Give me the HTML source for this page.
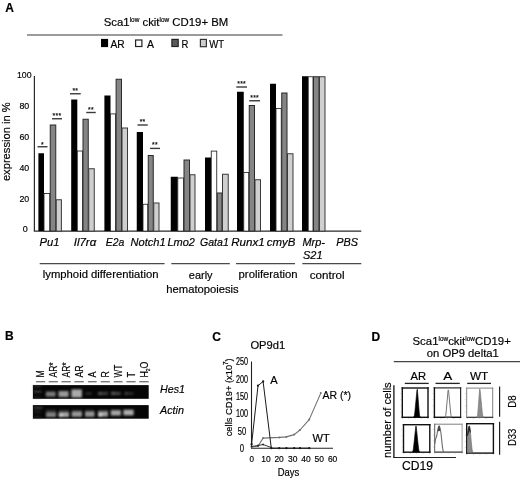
<!DOCTYPE html>
<html><head><meta charset="utf-8"><title>Figure</title>
<style>
html,body{margin:0;padding:0;background:#fff;}
svg{display:block;font-family:'Liberation Sans', Arial, sans-serif;}
svg text{stroke:#000;stroke-width:0.18px;}
</style></head>
<body>
<svg width="520" height="480" viewBox="0 0 520 480">
<rect width="520" height="480" fill="#fff"/>
<g id="panelA">
<text x="5.2" y="11.9" font-size="12" font-weight="bold" fill="#000">A</text>
<text x="103.75" y="25.9" font-size="11.5" fill="#000" textLength="124.5" lengthAdjust="spacingAndGlyphs">Sca1<tspan font-size="6.5" dy="-4">low</tspan><tspan dy="4"> ckit</tspan><tspan font-size="6.5" dy="-4">low</tspan><tspan dy="4"> CD19+ BM</tspan></text>
<line x1="27" y1="35" x2="282.5" y2="35" stroke="#383838" stroke-width="1.2"/>
<rect x="101.00" y="38.90" width="7.10" height="8.20" fill="#000"/>
<text x="110.4" y="47.5" font-size="10.8" textLength="14.2" lengthAdjust="spacingAndGlyphs" fill="#000">AR</text>
<rect x="135.60" y="40.00" width="6.30" height="6.50" fill="#fff" stroke="#222" stroke-width="1.2"/>
<text x="147.0" y="47.5" font-size="10.8" textLength="7" lengthAdjust="spacingAndGlyphs" fill="#000">A</text>
<rect x="171.90" y="39.40" width="6.30" height="7.10" fill="#5a5a5a" stroke="#222" stroke-width="1.2"/>
<text x="181.6" y="47.5" font-size="10.8" textLength="6.9" lengthAdjust="spacingAndGlyphs" fill="#000">R</text>
<rect x="200.40" y="39.40" width="6.00" height="7.30" fill="#cdcdcd" stroke="#333" stroke-width="1.2"/>
<text x="209.2" y="47.5" font-size="10.8" textLength="14.8" lengthAdjust="spacingAndGlyphs" fill="#000">WT</text>
<line x1="34.4" y1="76" x2="34.4" y2="231.1" stroke="#2a2a2a" stroke-width="1.2"/>
<line x1="33.8" y1="231.1" x2="361.3" y2="231.1" stroke="#2a2a2a" stroke-width="1.3"/>
<text x="17.0" y="78.05" font-size="9.5" textLength="14.6" lengthAdjust="spacingAndGlyphs" fill="#000">100</text>
<text x="19.4" y="108.95" font-size="9.5" textLength="9.8" lengthAdjust="spacingAndGlyphs" fill="#000">80</text>
<text x="19.4" y="139.85000000000002" font-size="9.5" textLength="9.8" lengthAdjust="spacingAndGlyphs" fill="#000">60</text>
<text x="19.4" y="170.75" font-size="9.5" textLength="9.8" lengthAdjust="spacingAndGlyphs" fill="#000">40</text>
<text x="19.4" y="201.65" font-size="9.5" textLength="9.8" lengthAdjust="spacingAndGlyphs" fill="#000">20</text>
<text x="22.7" y="232.4" font-size="9.5" textLength="5.0" lengthAdjust="spacingAndGlyphs" fill="#000">0</text>
<text transform="translate(10.1,181.1) rotate(-90)" font-size="11.6" fill="#000" textLength="78.8" lengthAdjust="spacingAndGlyphs">expression in %</text>
<rect x="38.40" y="153.25" width="5.60" height="77.85" fill="#000"/>
<rect x="44.00" y="193.50" width="5.75" height="37.60" fill="#fff" stroke="#222" stroke-width="0.85"/>
<rect x="50.25" y="125.00" width="5.50" height="106.10" fill="#858585" stroke="#2a2a2a" stroke-width="1"/>
<rect x="56.25" y="199.75" width="5.15" height="31.35" fill="#cfcfcf" stroke="#3a3a3a" stroke-width="1"/>
<rect x="71.20" y="99.50" width="6.10" height="131.60" fill="#000"/>
<rect x="77.30" y="151.00" width="5.30" height="80.10" fill="#fff" stroke="#222" stroke-width="0.85"/>
<rect x="83.00" y="119.25" width="5.25" height="111.85" fill="#858585" stroke="#2a2a2a" stroke-width="1"/>
<rect x="88.75" y="168.75" width="5.50" height="62.35" fill="#cfcfcf" stroke="#3a3a3a" stroke-width="1"/>
<rect x="104.40" y="95.50" width="6.10" height="135.60" fill="#000"/>
<rect x="110.50" y="113.90" width="5.10" height="117.20" fill="#fff" stroke="#222" stroke-width="0.85"/>
<rect x="116.10" y="79.25" width="5.40" height="151.85" fill="#858585" stroke="#2a2a2a" stroke-width="1"/>
<rect x="122.00" y="128.00" width="5.50" height="103.10" fill="#cfcfcf" stroke="#3a3a3a" stroke-width="1"/>
<rect x="136.75" y="132.00" width="6.25" height="99.10" fill="#000"/>
<rect x="143.00" y="204.25" width="4.75" height="26.85" fill="#fff" stroke="#222" stroke-width="0.85"/>
<rect x="148.25" y="155.50" width="5.00" height="75.60" fill="#858585" stroke="#2a2a2a" stroke-width="1"/>
<rect x="153.75" y="203.00" width="5.25" height="28.10" fill="#cfcfcf" stroke="#3a3a3a" stroke-width="1"/>
<rect x="170.75" y="176.75" width="7.05" height="54.35" fill="#000"/>
<rect x="177.80" y="178.00" width="5.70" height="53.10" fill="#fff" stroke="#222" stroke-width="0.85"/>
<rect x="184.00" y="160.00" width="5.50" height="71.10" fill="#858585" stroke="#2a2a2a" stroke-width="1"/>
<rect x="190.00" y="174.75" width="5.00" height="56.35" fill="#cfcfcf" stroke="#3a3a3a" stroke-width="1"/>
<rect x="205.00" y="157.50" width="6.25" height="73.60" fill="#000"/>
<rect x="211.25" y="151.10" width="5.50" height="80.00" fill="#fff" stroke="#222" stroke-width="0.85"/>
<rect x="217.25" y="193.00" width="4.75" height="38.10" fill="#858585" stroke="#2a2a2a" stroke-width="1"/>
<rect x="222.50" y="174.25" width="5.75" height="56.85" fill="#cfcfcf" stroke="#3a3a3a" stroke-width="1"/>
<rect x="237.00" y="91.75" width="6.75" height="139.35" fill="#000"/>
<rect x="243.75" y="172.40" width="5.00" height="58.70" fill="#fff" stroke="#222" stroke-width="0.85"/>
<rect x="249.25" y="105.50" width="5.25" height="125.60" fill="#858585" stroke="#2a2a2a" stroke-width="1"/>
<rect x="255.00" y="179.75" width="5.50" height="51.35" fill="#cfcfcf" stroke="#3a3a3a" stroke-width="1"/>
<rect x="270.00" y="83.75" width="6.00" height="147.35" fill="#000"/>
<rect x="276.00" y="108.50" width="5.25" height="122.60" fill="#fff" stroke="#222" stroke-width="0.85"/>
<rect x="281.75" y="93.00" width="5.25" height="138.10" fill="#858585" stroke="#2a2a2a" stroke-width="1"/>
<rect x="287.50" y="153.75" width="5.50" height="77.35" fill="#cfcfcf" stroke="#3a3a3a" stroke-width="1"/>
<rect x="302.00" y="76.25" width="6.25" height="154.85" fill="#000"/>
<rect x="308.25" y="76.75" width="4.75" height="154.35" fill="#fff" stroke="#222" stroke-width="0.85"/>
<rect x="313.50" y="76.75" width="5.50" height="154.35" fill="#858585" stroke="#2a2a2a" stroke-width="1"/>
<rect x="319.50" y="76.75" width="5.50" height="154.35" fill="#cfcfcf" stroke="#3a3a3a" stroke-width="1"/>
<line x1="37.5" y1="146.75" x2="47.5" y2="146.75" stroke="#3a3a3a" stroke-width="1.4"/>
<text x="42.5" y="146.65" font-size="6.8" text-anchor="middle" fill="#222" letter-spacing="0.3">*</text>
<line x1="52" y1="118.75" x2="62" y2="118.75" stroke="#3a3a3a" stroke-width="1.4"/>
<text x="57.0" y="117.75" font-size="6.8" text-anchor="middle" fill="#222" letter-spacing="0.3">***</text>
<line x1="70" y1="93.75" x2="80.75" y2="93.75" stroke="#3a3a3a" stroke-width="1.4"/>
<text x="75.375" y="92.75" font-size="6.8" text-anchor="middle" fill="#222" letter-spacing="0.3">**</text>
<line x1="86.25" y1="112.5" x2="95.75" y2="112.5" stroke="#3a3a3a" stroke-width="1.4"/>
<text x="91.0" y="111.5" font-size="6.8" text-anchor="middle" fill="#222" letter-spacing="0.3">**</text>
<line x1="137.5" y1="125.0" x2="147.75" y2="125.0" stroke="#3a3a3a" stroke-width="1.4"/>
<text x="142.625" y="124.0" font-size="6.8" text-anchor="middle" fill="#222" letter-spacing="0.3">**</text>
<line x1="150" y1="148.4" x2="160" y2="148.4" stroke="#3a3a3a" stroke-width="1.4"/>
<text x="155.0" y="147.4" font-size="6.8" text-anchor="middle" fill="#222" letter-spacing="0.3">**</text>
<line x1="236.25" y1="87" x2="247" y2="87" stroke="#3a3a3a" stroke-width="1.4"/>
<text x="241.625" y="86.0" font-size="6.8" text-anchor="middle" fill="#222" letter-spacing="0.3">***</text>
<line x1="249.25" y1="100.75" x2="260" y2="100.75" stroke="#3a3a3a" stroke-width="1.4"/>
<text x="254.625" y="99.75" font-size="6.8" text-anchor="middle" fill="#222" letter-spacing="0.3">***</text>
<text x="39.5" y="245.5" font-size="11" font-style="italic" textLength="20.0" lengthAdjust="spacingAndGlyphs" fill="#000">Pu1</text>
<text x="73.75" y="245.5" font-size="11" font-style="italic" textLength="22.5" lengthAdjust="spacingAndGlyphs" fill="#000">Il7rα</text>
<text x="105.75" y="245.5" font-size="11" font-style="italic" textLength="18.5" lengthAdjust="spacingAndGlyphs" fill="#000">E2a</text>
<text x="130.5" y="245.5" font-size="11" font-style="italic" textLength="35.1" lengthAdjust="spacingAndGlyphs" fill="#000">Notch1</text>
<text x="167.5" y="245.5" font-size="11" font-style="italic" textLength="27.5" lengthAdjust="spacingAndGlyphs" fill="#000">Lmo2</text>
<text x="200" y="245.5" font-size="11" font-style="italic" textLength="28.75" lengthAdjust="spacingAndGlyphs" fill="#000">Gata1</text>
<text x="231.2" y="245.5" font-size="11" font-style="italic" textLength="33.4" lengthAdjust="spacingAndGlyphs" fill="#000">Runx1</text>
<text x="266.8" y="245.5" font-size="11" font-style="italic" textLength="28.6" lengthAdjust="spacingAndGlyphs" fill="#000">cmyB</text>
<text x="302.5" y="245.5" font-size="11" font-style="italic" textLength="22.5" lengthAdjust="spacingAndGlyphs" fill="#000">Mrp-</text>
<text x="303" y="258.75" font-size="11" font-style="italic" textLength="19.5" lengthAdjust="spacingAndGlyphs" fill="#000">S21</text>
<text x="336.25" y="245.5" font-size="11" font-style="italic" textLength="21.75" lengthAdjust="spacingAndGlyphs" fill="#000">PBS</text>
<line x1="39.7" y1="263.6" x2="164.6" y2="263.6" stroke="#4a4a4a" stroke-width="1.35"/>
<line x1="171.3" y1="263.6" x2="229.8" y2="263.6" stroke="#4a4a4a" stroke-width="1.35"/>
<line x1="236" y1="263.6" x2="295" y2="263.6" stroke="#4a4a4a" stroke-width="1.35"/>
<line x1="302.3" y1="263.6" x2="361.3" y2="263.6" stroke="#4a4a4a" stroke-width="1.35"/>
<text x="42.8" y="278.4" font-size="11" textLength="115.7" lengthAdjust="spacingAndGlyphs" fill="#000">lymphoid differentiation</text>
<text x="188.8" y="278.5" font-size="11" textLength="23.8" lengthAdjust="spacingAndGlyphs" fill="#000">early</text>
<text x="166.3" y="292.6" font-size="11" textLength="72.4" lengthAdjust="spacingAndGlyphs" fill="#000">hematopoiesis</text>
<text x="238.6" y="278.3" font-size="11.3" textLength="59" lengthAdjust="spacingAndGlyphs" fill="#000">proliferation</text>
<text x="309.8" y="279.3" font-size="11.6" textLength="34.8" lengthAdjust="spacingAndGlyphs" fill="#000">control</text>
</g>
<g id="panelB">
<text x="5" y="340" font-size="12" font-weight="bold" fill="#000">B</text>
<line x1="36" y1="381.7" x2="45.2" y2="381.7" stroke="#7a7a7a" stroke-width="1.4"/>
<text transform="translate(44.45,377.6) rotate(-90)" font-size="10.8" fill="#000" textLength="7.2" lengthAdjust="spacingAndGlyphs">M</text>
<line x1="48.7" y1="381.7" x2="57.9" y2="381.7" stroke="#7a7a7a" stroke-width="1.4"/>
<text transform="translate(57.15,377.6) rotate(-90)" font-size="10.8" fill="#000" textLength="15.3" lengthAdjust="spacingAndGlyphs">AR*</text>
<line x1="61.5" y1="381.7" x2="70.7" y2="381.7" stroke="#7a7a7a" stroke-width="1.4"/>
<text transform="translate(69.95,377.6) rotate(-90)" font-size="10.8" fill="#000" textLength="15.3" lengthAdjust="spacingAndGlyphs">AR*</text>
<line x1="74.4" y1="381.7" x2="83.8" y2="381.7" stroke="#7a7a7a" stroke-width="1.4"/>
<text transform="translate(82.95,377.6) rotate(-90)" font-size="10.8" fill="#000" textLength="12.4" lengthAdjust="spacingAndGlyphs">AR</text>
<line x1="87.9" y1="381.7" x2="96.7" y2="381.7" stroke="#7a7a7a" stroke-width="1.4"/>
<text transform="translate(96.15,377.6) rotate(-90)" font-size="10.8" fill="#000" textLength="6.0" lengthAdjust="spacingAndGlyphs">A</text>
<line x1="100.7" y1="381.7" x2="109.8" y2="381.7" stroke="#7a7a7a" stroke-width="1.4"/>
<text transform="translate(109.10,377.6) rotate(-90)" font-size="10.8" fill="#000" textLength="6.3" lengthAdjust="spacingAndGlyphs">R</text>
<line x1="113.7" y1="381.7" x2="122.6" y2="381.7" stroke="#7a7a7a" stroke-width="1.4"/>
<text transform="translate(122.00,377.6) rotate(-90)" font-size="10.8" fill="#000" textLength="12.8" lengthAdjust="spacingAndGlyphs">WT</text>
<line x1="126.5" y1="381.7" x2="135.6" y2="381.7" stroke="#7a7a7a" stroke-width="1.4"/>
<text transform="translate(134.90,377.6) rotate(-90)" font-size="10.8" fill="#000" textLength="5.6" lengthAdjust="spacingAndGlyphs">T</text>
<line x1="139.2" y1="381.7" x2="148.7" y2="381.7" stroke="#7a7a7a" stroke-width="1.4"/>
<text transform="translate(147.80,377.6) rotate(-90)" font-size="10.8" fill="#000" textLength="16.0" lengthAdjust="spacingAndGlyphs">H<tspan font-size="6" dy="2">2</tspan><tspan dy="-2">O</tspan></text>
<defs><filter id="bl" x="-20%" y="-40%" width="140%" height="180%"><feGaussianBlur stdDeviation="0.8"/></filter></defs>
<rect x="32.90" y="385.10" width="115.80" height="13.70" fill="#060606"/>
<rect x="32.90" y="405.10" width="115.80" height="13.60" fill="#060606"/>
<g filter="url(#bl)">
<rect x="45.80" y="391.60" width="9.80" height="5.00" fill="#7c7c7c"/>
<rect x="58.50" y="391.00" width="10.10" height="6.00" fill="#999"/>
<rect x="71.40" y="389.40" width="10.50" height="8.10" fill="#aaa"/>
<rect x="85.50" y="392.40" width="6.00" height="2.20" fill="#333"/>
<rect x="98.00" y="392.00" width="10.00" height="3.00" fill="#3e3e3e"/>
<rect x="111.00" y="392.00" width="9.70" height="3.00" fill="#444"/>
<rect x="124.60" y="392.20" width="8.90" height="2.40" fill="#323232"/>
<rect x="98.20" y="392.00" width="3.30" height="3.00" fill="#525252"/>
<rect x="111.30" y="391.80" width="3.70" height="3.20" fill="#565656"/>
<rect x="124.80" y="392.00" width="2.70" height="2.60" fill="#444"/>
<rect x="33.50" y="386.00" width="7.50" height="1.20" fill="#3a3a3a"/>
<rect x="33.50" y="391.00" width="8.00" height="1.30" fill="#5a5a5a"/>
<rect x="33.50" y="396.60" width="7.50" height="1.00" fill="#333"/>
<rect x="46.00" y="409.60" width="10.00" height="3.40" fill="#2e2e2e"/>
<rect x="59.00" y="409.60" width="10.00" height="3.40" fill="#2e2e2e"/>
<rect x="72.00" y="409.60" width="10.00" height="3.40" fill="#2e2e2e"/>
<rect x="85.00" y="409.60" width="9.50" height="3.40" fill="#2e2e2e"/>
<rect x="98.00" y="409.60" width="10.00" height="3.40" fill="#2e2e2e"/>
<rect x="110.80" y="409.60" width="10.00" height="3.40" fill="#2e2e2e"/>
<rect x="123.50" y="409.60" width="10.10" height="3.40" fill="#2e2e2e"/>
<rect x="46.00" y="412.80" width="10.00" height="4.20" fill="#858585"/>
<rect x="58.60" y="412.60" width="10.40" height="4.40" fill="#a8a8a8"/>
<rect x="71.60" y="412.00" width="10.40" height="4.80" fill="#999"/>
<rect x="85.00" y="412.00" width="9.50" height="4.80" fill="#959595"/>
<rect x="98.00" y="411.80" width="10.00" height="4.80" fill="#a0a0a0"/>
<rect x="110.80" y="410.40" width="10.10" height="5.20" fill="#a5a5a5"/>
<rect x="123.40" y="409.80" width="10.20" height="5.60" fill="#adadad"/>
<rect x="59.00" y="414.20" width="4.00" height="2.60" fill="#d0d0d0"/>
<rect x="98.20" y="413.80" width="4.30" height="2.60" fill="#d8d8d8"/>
<rect x="33.50" y="407.20" width="9.00" height="1.30" fill="#5a5a5a"/>
<rect x="33.50" y="411.30" width="7.50" height="1.00" fill="#3c3c3c"/>
<rect x="33.50" y="416.50" width="7.50" height="1.00" fill="#333"/>
</g>
<text x="160" y="392.5" font-size="11" font-style="italic" textLength="25" lengthAdjust="spacingAndGlyphs" fill="#000">Hes1</text>
<text x="160" y="413.8" font-size="11" font-style="italic" textLength="24" lengthAdjust="spacingAndGlyphs" fill="#000">Actin</text>
</g>
<g id="panelC">
<text x="212.2" y="340.7" font-size="12" font-weight="bold" fill="#000">C</text>
<text x="250.4" y="349" font-size="11.5" textLength="34.8" lengthAdjust="spacingAndGlyphs" fill="#000">OP9d1</text>
<line x1="251.5" y1="361.5" x2="251.5" y2="448.2" stroke="#222" stroke-width="1.1"/>
<line x1="251.0" y1="448.2" x2="333" y2="448.2" stroke="#222" stroke-width="1.1"/>
<text x="235.95" y="365.2" font-size="10" textLength="12.1" lengthAdjust="spacingAndGlyphs" fill="#000">250</text>
<text x="235.95" y="382.6" font-size="10" textLength="12.1" lengthAdjust="spacingAndGlyphs" fill="#000">200</text>
<text x="235.95" y="399.9" font-size="10" textLength="12.1" lengthAdjust="spacingAndGlyphs" fill="#000">150</text>
<text x="235.95" y="417.3" font-size="10" textLength="12.1" lengthAdjust="spacingAndGlyphs" fill="#000">100</text>
<text x="237.8" y="434.6" font-size="10" textLength="8.4" lengthAdjust="spacingAndGlyphs" fill="#000">50</text>
<text x="239.85" y="452.0" font-size="10" textLength="4.3" lengthAdjust="spacingAndGlyphs" fill="#000">0</text>
<text x="249.45" y="462.0" font-size="9.8" textLength="4.5" lengthAdjust="spacingAndGlyphs" fill="#000">0</text>
<text x="261.3" y="462.0" font-size="9.8" textLength="9.4" lengthAdjust="spacingAndGlyphs" fill="#000">10</text>
<text x="274.4" y="462.0" font-size="9.8" textLength="9.4" lengthAdjust="spacingAndGlyphs" fill="#000">20</text>
<text x="288.1" y="462.0" font-size="9.8" textLength="9.4" lengthAdjust="spacingAndGlyphs" fill="#000">30</text>
<text x="301.2" y="462.0" font-size="9.8" textLength="9.4" lengthAdjust="spacingAndGlyphs" fill="#000">40</text>
<text x="314.6" y="462.0" font-size="9.8" textLength="9.4" lengthAdjust="spacingAndGlyphs" fill="#000">50</text>
<text x="327.9" y="462.0" font-size="9.8" textLength="9.4" lengthAdjust="spacingAndGlyphs" fill="#000">60</text>
<text x="277.7" y="476" font-size="10.5" textLength="21.6" lengthAdjust="spacingAndGlyphs" fill="#000">Days</text>
<text transform="translate(231.8,436.3) rotate(-90)" font-size="9.8" fill="#000" textLength="78" lengthAdjust="spacingAndGlyphs">cells CD19+ (x10<tspan font-size="6.5" dy="-3.5">7</tspan><tspan dy="3.5">)</tspan></text>
<polyline fill="none" stroke="#707070" stroke-width="1.1" stroke-linejoin="round" points="251.6,447 258,446.2 263.1,438.1 279.2,437.4 286.2,436.9 294.2,434.6 300,430 309.2,419.6 320.8,393.1"/>
<circle cx="251.6" cy="447" r="1.0" fill="#707070"/>
<circle cx="258" cy="446.2" r="1.0" fill="#707070"/>
<circle cx="263.1" cy="438.1" r="1.0" fill="#707070"/>
<circle cx="279.2" cy="437.4" r="1.0" fill="#707070"/>
<circle cx="286.2" cy="436.9" r="1.0" fill="#707070"/>
<circle cx="294.2" cy="434.6" r="1.0" fill="#707070"/>
<circle cx="300" cy="430" r="1.0" fill="#707070"/>
<circle cx="309.2" cy="419.6" r="1.0" fill="#707070"/>
<circle cx="320.8" cy="393.1" r="1.0" fill="#707070"/>
<polyline fill="none" stroke="#1a1a1a" stroke-width="1" stroke-linejoin="round" points="251.6,444.2 258,385.7 263.1,381.5 271.3,448.2 279.2,448.2 286.4,448.2 294.2,448.2 300,448.2 309.3,448.2"/>
<circle cx="251.6" cy="444.2" r="1.15" fill="#1a1a1a"/>
<circle cx="258" cy="385.7" r="1.15" fill="#1a1a1a"/>
<circle cx="263.1" cy="381.5" r="1.15" fill="#1a1a1a"/>
<circle cx="271.3" cy="448.2" r="1.15" fill="#1a1a1a"/>
<circle cx="279.2" cy="448.2" r="1.15" fill="#1a1a1a"/>
<circle cx="286.4" cy="448.2" r="1.15" fill="#1a1a1a"/>
<circle cx="294.2" cy="448.2" r="1.15" fill="#1a1a1a"/>
<circle cx="300" cy="448.2" r="1.15" fill="#1a1a1a"/>
<circle cx="309.3" cy="448.2" r="1.15" fill="#1a1a1a"/>
<polyline fill="none" stroke="#222" stroke-width="0.9" stroke-linejoin="round" points="251.6,446.5 258,445.5 263.1,444.5 271.2,447.5"/>
<circle cx="251.6" cy="446.5" r="0.9" fill="#222"/>
<circle cx="258" cy="445.5" r="0.9" fill="#222"/>
<circle cx="263.1" cy="444.5" r="0.9" fill="#222"/>
<circle cx="271.2" cy="447.5" r="0.9" fill="#222"/>
<text x="270.3" y="383.9" font-size="11" textLength="7.4" lengthAdjust="spacingAndGlyphs" fill="#000">A</text>
<text x="322.5" y="398.9" font-size="11" textLength="28.6" lengthAdjust="spacingAndGlyphs" fill="#000">AR (*)</text>
<text x="312.5" y="442.3" font-size="11" textLength="17.2" lengthAdjust="spacingAndGlyphs" fill="#000">WT</text>
</g>
<g id="panelD">
<text x="371.4" y="340.6" font-size="12" font-weight="bold" fill="#000">D</text>
<text x="412.5" y="344.8" font-size="11.5" fill="#000" textLength="98.3" lengthAdjust="spacingAndGlyphs">Sca1<tspan font-size="6.5" dy="-4">low</tspan><tspan dy="4">ckit</tspan><tspan font-size="6.5" dy="-4">low</tspan><tspan dy="4">CD19+</tspan></text>
<text x="426.8" y="356.6" font-size="11.5" textLength="72" lengthAdjust="spacingAndGlyphs" fill="#000">on OP9 delta1</text>
<line x1="393.8" y1="361.6" x2="520" y2="361.6" stroke="#444" stroke-width="1.2"/>
<text x="410.4" y="380" font-size="11.5" textLength="15.6" lengthAdjust="spacingAndGlyphs" fill="#000">AR</text>
<line x1="404.8" y1="383.4" x2="428.7" y2="383.4" stroke="#222" stroke-width="1.3"/>
<text x="443.3" y="380" font-size="11.5" textLength="9" lengthAdjust="spacingAndGlyphs" fill="#000">A</text>
<line x1="435.5" y1="383.4" x2="459.8" y2="383.4" stroke="#222" stroke-width="1.3"/>
<text x="470" y="380" font-size="11.5" textLength="18.3" lengthAdjust="spacingAndGlyphs" fill="#000">WT</text>
<line x1="467.2" y1="383.4" x2="491" y2="383.4" stroke="#222" stroke-width="1.3"/>
<rect x="401.60" y="387.30" width="27.10" height="30.70" fill="#fff"/>
<line x1="401.60" y1="388.00" x2="428.70" y2="388.00" stroke="#111" stroke-width="1.4"/>
<line x1="428.00" y1="387.30" x2="428.00" y2="418.00" stroke="#111" stroke-width="1.4"/>
<line x1="401.60" y1="417.30" x2="428.70" y2="417.30" stroke="#111" stroke-width="1.4"/>
<line x1="402.30" y1="387.30" x2="402.30" y2="418.00" stroke="#111" stroke-width="1.4"/>
<rect x="433.70" y="387.30" width="27.50" height="30.70" fill="#fff"/>
<line x1="433.70" y1="387.90" x2="461.20" y2="387.90" stroke="#2a2a2a" stroke-width="1.2"/>
<line x1="460.60" y1="387.30" x2="460.60" y2="418.00" stroke="#2a2a2a" stroke-width="1.2"/>
<line x1="433.70" y1="417.30" x2="461.20" y2="417.30" stroke="#111" stroke-width="1.4"/>
<line x1="434.40" y1="387.30" x2="434.40" y2="418.00" stroke="#111" stroke-width="1.4"/>
<rect x="466.20" y="387.60" width="27.00" height="30.30" fill="#fff"/>
<line x1="466.20" y1="388.10" x2="493.20" y2="388.10" stroke="#808080" stroke-width="1.0"/>
<line x1="492.70" y1="387.60" x2="492.70" y2="417.90" stroke="#808080" stroke-width="1.0"/>
<line x1="466.20" y1="417.30" x2="493.20" y2="417.30" stroke="#2a2a2a" stroke-width="1.2"/>
<line x1="466.70" y1="387.60" x2="466.70" y2="417.90" stroke="#808080" stroke-width="1.0"/>
<rect x="402.80" y="424.00" width="27.70" height="28.90" fill="#fff"/>
<line x1="402.80" y1="424.70" x2="430.50" y2="424.70" stroke="#111" stroke-width="1.4"/>
<line x1="429.80" y1="424.00" x2="429.80" y2="452.90" stroke="#111" stroke-width="1.4"/>
<line x1="402.80" y1="452.20" x2="430.50" y2="452.20" stroke="#111" stroke-width="1.4"/>
<line x1="403.50" y1="424.00" x2="403.50" y2="452.90" stroke="#111" stroke-width="1.4"/>
<rect x="434.10" y="423.70" width="28.50" height="29.00" fill="#fff"/>
<line x1="434.10" y1="424.20" x2="462.60" y2="424.20" stroke="#808080" stroke-width="1.0"/>
<line x1="462.10" y1="423.70" x2="462.10" y2="452.70" stroke="#999" stroke-width="1.0"/>
<line x1="434.10" y1="452.10" x2="462.60" y2="452.10" stroke="#2a2a2a" stroke-width="1.2"/>
<line x1="434.65" y1="423.70" x2="434.65" y2="452.70" stroke="#6a6a6a" stroke-width="1.1"/>
<rect x="466.00" y="423.00" width="28.10" height="30.80" fill="#fff"/>
<line x1="466.00" y1="423.70" x2="494.10" y2="423.70" stroke="#111" stroke-width="1.4"/>
<line x1="493.40" y1="423.00" x2="493.40" y2="453.80" stroke="#111" stroke-width="1.4"/>
<line x1="466.00" y1="453.10" x2="494.10" y2="453.10" stroke="#111" stroke-width="1.4"/>
<line x1="466.70" y1="423.00" x2="466.70" y2="453.80" stroke="#111" stroke-width="1.4"/>
<line x1="400.40" y1="393.44" x2="401.60" y2="393.44" stroke="#aaa" stroke-width="0.5"/>
<line x1="400.40" y1="399.58" x2="401.60" y2="399.58" stroke="#aaa" stroke-width="0.5"/>
<line x1="400.40" y1="405.72" x2="401.60" y2="405.72" stroke="#aaa" stroke-width="0.5"/>
<line x1="400.40" y1="411.86" x2="401.60" y2="411.86" stroke="#aaa" stroke-width="0.5"/>
<line x1="402.60" y1="418.00" x2="402.60" y2="419.20" stroke="#aaa" stroke-width="0.5"/>
<line x1="408.88" y1="418.00" x2="408.88" y2="419.20" stroke="#aaa" stroke-width="0.5"/>
<line x1="415.15" y1="418.00" x2="415.15" y2="419.20" stroke="#aaa" stroke-width="0.5"/>
<line x1="421.43" y1="418.00" x2="421.43" y2="419.20" stroke="#aaa" stroke-width="0.5"/>
<line x1="427.70" y1="418.00" x2="427.70" y2="419.20" stroke="#aaa" stroke-width="0.5"/>
<line x1="432.50" y1="393.44" x2="433.70" y2="393.44" stroke="#aaa" stroke-width="0.5"/>
<line x1="432.50" y1="399.58" x2="433.70" y2="399.58" stroke="#aaa" stroke-width="0.5"/>
<line x1="432.50" y1="405.72" x2="433.70" y2="405.72" stroke="#aaa" stroke-width="0.5"/>
<line x1="432.50" y1="411.86" x2="433.70" y2="411.86" stroke="#aaa" stroke-width="0.5"/>
<line x1="434.70" y1="418.00" x2="434.70" y2="419.20" stroke="#aaa" stroke-width="0.5"/>
<line x1="441.07" y1="418.00" x2="441.07" y2="419.20" stroke="#aaa" stroke-width="0.5"/>
<line x1="447.45" y1="418.00" x2="447.45" y2="419.20" stroke="#aaa" stroke-width="0.5"/>
<line x1="453.82" y1="418.00" x2="453.82" y2="419.20" stroke="#aaa" stroke-width="0.5"/>
<line x1="460.20" y1="418.00" x2="460.20" y2="419.20" stroke="#aaa" stroke-width="0.5"/>
<line x1="465.00" y1="393.66" x2="466.20" y2="393.66" stroke="#aaa" stroke-width="0.5"/>
<line x1="465.00" y1="399.72" x2="466.20" y2="399.72" stroke="#aaa" stroke-width="0.5"/>
<line x1="465.00" y1="405.78" x2="466.20" y2="405.78" stroke="#aaa" stroke-width="0.5"/>
<line x1="465.00" y1="411.84" x2="466.20" y2="411.84" stroke="#aaa" stroke-width="0.5"/>
<line x1="467.20" y1="417.90" x2="467.20" y2="419.10" stroke="#aaa" stroke-width="0.5"/>
<line x1="473.45" y1="417.90" x2="473.45" y2="419.10" stroke="#aaa" stroke-width="0.5"/>
<line x1="479.70" y1="417.90" x2="479.70" y2="419.10" stroke="#aaa" stroke-width="0.5"/>
<line x1="485.95" y1="417.90" x2="485.95" y2="419.10" stroke="#aaa" stroke-width="0.5"/>
<line x1="492.20" y1="417.90" x2="492.20" y2="419.10" stroke="#aaa" stroke-width="0.5"/>
<line x1="401.60" y1="429.78" x2="402.80" y2="429.78" stroke="#aaa" stroke-width="0.5"/>
<line x1="401.60" y1="435.56" x2="402.80" y2="435.56" stroke="#aaa" stroke-width="0.5"/>
<line x1="401.60" y1="441.34" x2="402.80" y2="441.34" stroke="#aaa" stroke-width="0.5"/>
<line x1="401.60" y1="447.12" x2="402.80" y2="447.12" stroke="#aaa" stroke-width="0.5"/>
<line x1="403.80" y1="452.90" x2="403.80" y2="454.10" stroke="#aaa" stroke-width="0.5"/>
<line x1="410.23" y1="452.90" x2="410.23" y2="454.10" stroke="#aaa" stroke-width="0.5"/>
<line x1="416.65" y1="452.90" x2="416.65" y2="454.10" stroke="#aaa" stroke-width="0.5"/>
<line x1="423.07" y1="452.90" x2="423.07" y2="454.10" stroke="#aaa" stroke-width="0.5"/>
<line x1="429.50" y1="452.90" x2="429.50" y2="454.10" stroke="#aaa" stroke-width="0.5"/>
<line x1="432.90" y1="429.50" x2="434.10" y2="429.50" stroke="#aaa" stroke-width="0.5"/>
<line x1="432.90" y1="435.30" x2="434.10" y2="435.30" stroke="#aaa" stroke-width="0.5"/>
<line x1="432.90" y1="441.10" x2="434.10" y2="441.10" stroke="#aaa" stroke-width="0.5"/>
<line x1="432.90" y1="446.90" x2="434.10" y2="446.90" stroke="#aaa" stroke-width="0.5"/>
<line x1="435.10" y1="452.70" x2="435.10" y2="453.90" stroke="#aaa" stroke-width="0.5"/>
<line x1="441.73" y1="452.70" x2="441.73" y2="453.90" stroke="#aaa" stroke-width="0.5"/>
<line x1="448.35" y1="452.70" x2="448.35" y2="453.90" stroke="#aaa" stroke-width="0.5"/>
<line x1="454.98" y1="452.70" x2="454.98" y2="453.90" stroke="#aaa" stroke-width="0.5"/>
<line x1="461.60" y1="452.70" x2="461.60" y2="453.90" stroke="#aaa" stroke-width="0.5"/>
<line x1="464.80" y1="429.16" x2="466.00" y2="429.16" stroke="#aaa" stroke-width="0.5"/>
<line x1="464.80" y1="435.32" x2="466.00" y2="435.32" stroke="#aaa" stroke-width="0.5"/>
<line x1="464.80" y1="441.48" x2="466.00" y2="441.48" stroke="#aaa" stroke-width="0.5"/>
<line x1="464.80" y1="447.64" x2="466.00" y2="447.64" stroke="#aaa" stroke-width="0.5"/>
<line x1="467.00" y1="453.80" x2="467.00" y2="455.00" stroke="#aaa" stroke-width="0.5"/>
<line x1="473.52" y1="453.80" x2="473.52" y2="455.00" stroke="#aaa" stroke-width="0.5"/>
<line x1="480.05" y1="453.80" x2="480.05" y2="455.00" stroke="#aaa" stroke-width="0.5"/>
<line x1="486.58" y1="453.80" x2="486.58" y2="455.00" stroke="#aaa" stroke-width="0.5"/>
<line x1="493.10" y1="453.80" x2="493.10" y2="455.00" stroke="#aaa" stroke-width="0.5"/>
<path d="M413.70,417.0 Q414.40,416.40 414.75,413.00 L417.00,389.4 L417.40,389.4 L419.30,413.00 Q419.60,416.40 420.20,417.0 Z" fill="#000" stroke="#000" stroke-width="0.6" stroke-linejoin="round"/>
<path d="M412.40,452.0 Q413.12,451.40 413.48,448.00 L415.80,426.2 L416.20,426.2 L418.52,448.00 Q418.88,451.40 419.60,452.0 Z" fill="#000" stroke="#000" stroke-width="0.6" stroke-linejoin="round"/>
<path d="M445.10,417.0 Q445.74,416.40 446.06,413.00 L448.10,390.0 L448.50,390.0 L450.68,413.00 Q451.02,416.40 451.70,417.0 Z" fill="none" stroke="#777" stroke-width="1.0" stroke-linejoin="round"/>
<path d="M477.00,417.2 Q477.56,416.60 477.84,413.20 L479.60,389.2 L480.00,389.2 L482.32,413.20 Q482.68,416.60 483.40,417.2 Z" fill="#8c8c8c" stroke="#777" stroke-width="0.7" stroke-linejoin="round"/>
<path d="M434.8,444 C435.2,441 435.6,438.5 436.1,437.6 C436.6,436.8 436.9,436 437.4,432 C438,428 438.6,425.9 439.2,425.9 C440.0,425.9 440.7,430 441.5,438 C442.1,445 442.7,450 443.5,452" fill="none" stroke="#6a6a6a" stroke-width="1.1"/>
<path d="M438.2,431 L439.1,426.2 L439.9,430.5 Z" fill="#222" stroke="#222" stroke-width="0.6"/>
<path d="M467.2,452.6 L467.2,436 C467.8,432 468.4,425.9 469.2,425.9 C470,425.9 470.6,434 471.3,442 C471.8,448 472.3,451.5 473,452.6 Z" fill="#8a8a8a" stroke="#666" stroke-width="0.6"/>
<path d="M467.3,436 C467.9,431 468.5,426.0 469.2,426.0 C469.8,426.0 470.2,429 470.5,432.5 L469.4,430 L468.3,433.5 Z" fill="#222" stroke="#222" stroke-width="0.5"/>
<line x1="499.6" y1="386.6" x2="499.6" y2="416.7" stroke="#222" stroke-width="1.2"/>
<line x1="499.6" y1="421.8" x2="499.6" y2="454.7" stroke="#222" stroke-width="1.2"/>
<text transform="translate(516.0,407.7) rotate(-90)" font-size="11.5" fill="#000" textLength="12.3" lengthAdjust="spacingAndGlyphs">D8</text>
<text transform="translate(516.0,446.0) rotate(-90)" font-size="11.5" fill="#000" textLength="17.3" lengthAdjust="spacingAndGlyphs">D33</text>
<text transform="translate(390.6,457.9) rotate(-90)" font-size="11.6" fill="#000" textLength="75.6" lengthAdjust="spacingAndGlyphs">number of cells</text>
<line x1="393.9" y1="385.2" x2="393.9" y2="458.1" stroke="#111" stroke-width="1.3"/>
<line x1="393.4" y1="457.5" x2="456" y2="457.5" stroke="#222" stroke-width="1.2"/>
<text x="401.9" y="470.1" font-size="12" textLength="31" lengthAdjust="spacingAndGlyphs" fill="#000">CD19</text>
</g>
</svg>
</body></html>
